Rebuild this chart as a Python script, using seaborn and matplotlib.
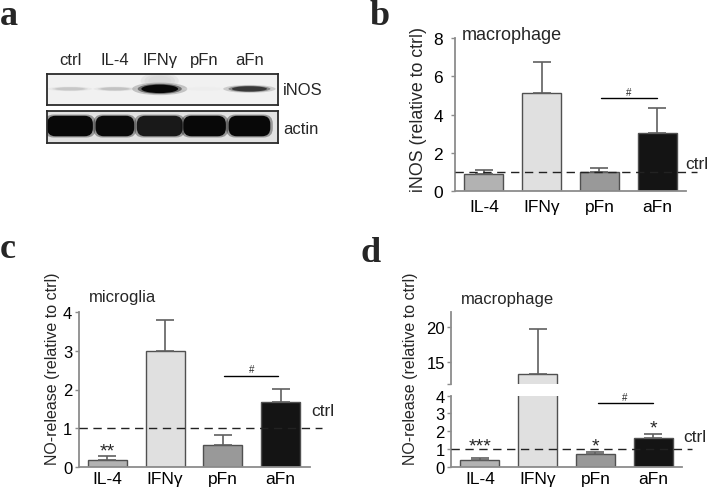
import numpy as np
import pandas as pd
import matplotlib
matplotlib.use('Agg')
import matplotlib.pyplot as plt
import seaborn as sns
from matplotlib.patches import FancyBboxPatch, Ellipse

# ---------------- data ----------------
treatments = ['IL-4', 'IFNγ', 'pFn', 'aFn']
bar_colors = ['#b2b2b2', '#e0e0e0', '#999999', '#141414']

inos_mean = [0.90, 5.12, 0.99, 3.03]          # panel b
inos_err = [0.20, 1.62, 0.21, 1.30]
no_microglia_mean = [0.17, 3.00, 0.57, 1.68]  # panel c
no_microglia_err = [0.10, 0.81, 0.25, 0.34]
no_macro_mean = [0.38, 13.21, 0.70, 1.62]     # panel d
no_macro_err = [0.09, 6.54, 0.15, 0.24]
ctrl_level = 1.0

sig_c = ['**', '', '', '']
sig_d = ['***', '', '*', '*']

blot_lanes = ['ctrl', 'IL-4', 'IFNγ', 'pFn', 'aFn']
inos_band = [0.22, 0.24, 0.97, 0.07, 0.78]      # band darkness 0..1
actin_band = [0.97, 0.96, 0.90, 0.97, 0.97]

# ---------------- style ----------------
sns.set_theme(style='white')
plt.rcParams['font.family'] = ['Liberation Sans', 'DejaVu Sans']

W, H = 707, 489
fig = plt.figure(figsize=(W / 100, H / 100), dpi=100)


def add_ax(l, t, r, b):
    return fig.add_axes([l / W, 1 - b / H, (r - l) / W, (b - t) / H])


SPINE = '#8c8c8c'
EDGE = '#505050'


def bars(ax, mean, err):
    df = pd.DataFrame({'treatment': treatments, 'value': mean})
    sns.barplot(data=df, x='treatment', y='value', hue='treatment',
                palette=dict(zip(treatments, bar_colors)), order=treatments,
                width=0.675, edgecolor=EDGE, linewidth=1.0, errorbar=None,
                legend=False, ax=ax)
    ax.errorbar(np.arange(len(mean)), mean,
                yerr=[np.zeros(len(err)), err], fmt='none', ecolor='#606060',
                elinewidth=1.2, capsize=6.5, capthick=1.2, zorder=1)
    ax.set_xlabel('')
    ax.set_ylabel('')
    ax.set_xlim(-0.5, 3.5)


def style(ax, ysize, xsize, ypad, xpad):
    sns.despine(ax=ax)
    for s in ['left', 'bottom']:
        ax.spines[s].set_color(SPINE)
        ax.spines[s].set_linewidth(1.3)
    ax.tick_params(axis='y', left=True, length=3, width=1, color=SPINE,
                   labelsize=ysize, pad=ypad, labelcolor='black')
    ax.tick_params(axis='x', length=0, labelsize=xsize, pad=xpad,
                   labelcolor='black')


def ctrl_line(ax, x_end, tx, ty, size):
    ax.plot([-0.5, x_end], [ctrl_level, ctrl_level], color='#222222',
            lw=1.0, linestyle=(0, (6, 4)), clip_on=False, zorder=3)
    ax.text(tx, ty, 'ctrl', fontsize=size, ha='left', va='center',
            clip_on=False)


def sig_bar(ax, x0, x1, y, ty, size=7):
    ax.plot([x0, x1], [y, y], color='black', lw=1.0, clip_on=False)
    ax.text((x0 + x1) / 2, ty, '#', fontsize=size, ha='center',
            va='center', clip_on=False)


# ---------------- panel a : western blot ----------------
ax_i = add_ax(46.7, 75, 277.7, 106)
ax_a = add_ax(46.7, 112.3, 277.7, 144.3)
for ax, bg in [(ax_i, '#f1f1f1'), (ax_a, '#e2e2e2')]:
    ax.set_xlim(-0.52, 4.63)
    ax.set_ylim(0, 1)
    ax.set_facecolor(bg)
    ax.set_yticks([])
    for s in ax.spines.values():
        s.set_visible(True)
        s.set_color('#2a2a2a')
        s.set_linewidth(1.3)

ax_i.set_xticks(range(len(blot_lanes)))
ax_i.set_xticklabels(blot_lanes)
ax_i.xaxis.tick_top()
ax_i.tick_params(axis='x', length=0, pad=5, labelsize=12)
ax_a.set_xticks([])

inos_w = [0.66, 0.64, 0.82, 0.66, 0.78]
inos_h = [0.10, 0.10, 0.27, 0.09, 0.17]
for i, d in enumerate(inos_band):
    g = 1 - d
    if i == 2:
        for sc, a in [(1.0, 0.25), (0.8, 0.25), (0.6, 0.2)]:
            ax_i.add_patch(Ellipse((i, 0.78), 0.85 * sc, 0.55 * sc,
                                   color='#c8c8c8', alpha=a, lw=0))
    for sc, a in [(1.5, 0.2), (1.2, 0.45), (1.0, 1.0)]:
        ax_i.add_patch(Ellipse((i, 0.52), inos_w[i] * sc, inos_h[i] * sc,
                               color=str(g), alpha=a, lw=0))

actin_w = [1.02, 0.86, 1.02, 0.95, 0.93]
asp = (231 / 5.15) / 32
for i, d in enumerate(actin_band):
    g = 1 - d
    for sc, a in [(1.12, 0.35), (1.0, 1.0)]:
        w = actin_w[i] * sc
        h = 0.64 * sc
        r = min(w, h / asp) * 0.4
        ax_a.add_patch(FancyBboxPatch(
            (i - w / 2, 0.54 - h / 2), w, h,
            boxstyle=f'round,pad=0,rounding_size={r}', mutation_aspect=asp,
            color=str(g), alpha=a, lw=0))

ax_i.text(1.023, 0.5, 'iNOS', transform=ax_i.transAxes, fontsize=12,
          ha='left', va='center')
ax_a.text(1.023, 0.45, 'actin', transform=ax_a.transAxes, fontsize=12,
          ha='left', va='center')

# ---------------- panel b ----------------
ax_b = add_ax(455, 39, 686, 192.3)
bars(ax_b, inos_mean, inos_err)
ax_b.set_ylim(0, 8)
ax_b.set_yticks([0, 2, 4, 6, 8])
style(ax_b, 12.5, 12.5, 5.5, 5.5)
ax_b.set_ylabel('iNOS (relative to ctrl)', fontsize=12.8)
ax_b.yaxis.set_label_coords(-0.12, 0.54)
ctrl_line(ax_b, 3.69, 3.48, 1.43, 12.5)
sig_bar(ax_b, 2.03, 2.99, 4.86, 5.2)
ax_b.text(-0.38, 7.95, 'macrophage', fontsize=13, ha='left',
          va='baseline', clip_on=False)

# ---------------- panel c ----------------
ax_c = add_ax(78.5, 313.3, 309.5, 467.7)
bars(ax_c, no_microglia_mean, no_microglia_err)
ax_c.set_ylim(0, 4)
ax_c.set_yticks([0, 1, 2, 3, 4])
style(ax_c, 12, 12.5, 1.5, 3.0)
ax_c.set_ylabel('NO-release (relative to ctrl)', fontsize=11.5)
ax_c.yaxis.set_label_coords(-0.08, 0.64)
ctrl_line(ax_c, 3.71, 3.53, 1.45, 12.5)
sig_bar(ax_c, 2.02, 2.96, 2.36, 2.53)
for i, s in enumerate(sig_c):
    if s:
        ax_c.text(i, no_microglia_mean[i] + no_microglia_err[i] + 0.03, s,
                  fontsize=14, ha='center', va='baseline')
ax_c.text(-0.32, 4.28, 'microglia', fontsize=12, ha='left',
          va='baseline', clip_on=False)

# ---------------- panel d (broken axis) ----------------
ax_d = add_ax(451, 396.7, 682, 467.7)
ax_du = add_ax(451, 312.7, 682, 385)
bars(ax_d, no_macro_mean, no_macro_err)
bars(ax_du, no_macro_mean, no_macro_err)
ax_d.set_ylim(0, 4)
ax_d.set_yticks([0, 1, 2, 3, 4])
ax_du.set_ylim(11.76, 22.27)
ax_du.set_yticks([11.76, 15, 20])
ax_du.set_yticklabels(['', '15', '20'])
style(ax_d, 12, 12.5, 1.5, 3.0)
style(ax_du, 12, 12.5, 1.5, 3.0)
ax_du.spines['bottom'].set_visible(False)
ax_du.tick_params(axis='x', bottom=False, labelbottom=False)
ax_d.set_ylabel('NO-release (relative to ctrl)', fontsize=11.5)
ax_d.yaxis.set_label_coords(-0.143, 1.39)
ctrl_line(ax_d, 3.67, 3.52, 1.68, 12.5)
sig_bar(ax_d, 2.04, 2.99, 3.58, 3.95)
for i, s in enumerate(sig_d):
    if s:
        ax_d.text(i, 0.92 if i < 3 else no_macro_mean[i] + no_macro_err[i] + 0.06,
                  s, fontsize=14, ha='center', va='baseline', clip_on=False)
ax_du.text(-0.32, 23.5, 'macrophage', fontsize=12, ha='left',
           va='baseline', clip_on=False)

# ---------------- panel letters ----------------
for lab, x, y in [('a', 0, 25), ('b', 370, 25), ('c', 0, 258), ('d', 360, 262)]:
    fig.text(x / W, 1 - y / H, lab, fontsize=26, fontweight='bold',
             family='Liberation Serif', ha='left', va='baseline')

fig.savefig('out.png', dpi=100)
